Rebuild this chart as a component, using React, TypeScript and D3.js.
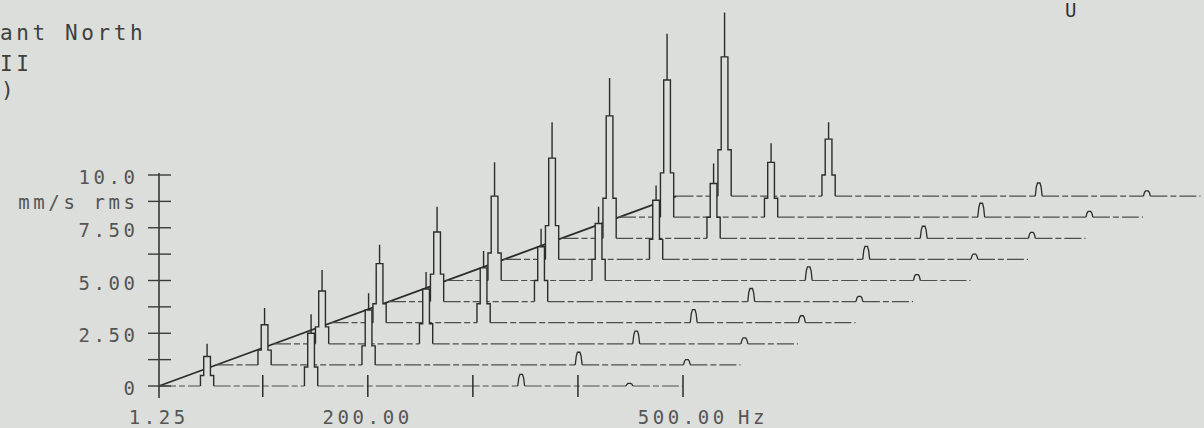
import React, { useEffect, useRef } from 'react';
import * as d3 from 'd3';

// waterfall traces, front (0) to back (9)
const traces = [0, 1, 2, 3, 4, 5, 6, 7, 8, 9];

// frequencies of the spectral lines, Hz
const lineFreqs = [47, 146, 346, 449];

// amplitudes per trace, mm/s rms
const line1Tip = [2.0, 2.7, 3.5, 3.7, 4.5, 5.6, 6.5, 7.6, 8.7, 8.7];
const line1Mid = [1.4, 1.9, 2.5, 2.8, 3.3, 4.0, 4.8, 5.8, 6.5, 6.6];
const line1Base = [0.5, 0.7, 0.8, 0.9, 1.3, 1.3, 1.6, 1.9, 2.1, 2.2];
const line2Tip = [3.4, 3.4, 3.4, 3.4, 3.45, 3.5, 3.5, 3.55, 3.5, 3.5];
const line2Mid = [2.5, 2.6, 2.6, 2.6, 2.6, 2.7, 2.8, 2.6, 2.6, 2.7];
const line2Base = [0.9, 0.9, 0.95, 0.9, 1.0, 1.0, 0.95, 1.0, 0.9, 1.0];
const line3Amp = [0.55, 0.6, 0.6, 0.62, 0.62, 0.65, 0.62, 0.57, 0.66, 0.62];
const line4Amp = [0.12, 0.25, 0.28, 0.33, 0.25, 0.28, 0.25, 0.28, 0.28, 0.25];

// axes
const yTicks = [0, 1.25, 2.5, 3.75, 5, 6.25, 7.5, 8.75, 10];
const yLabelValues = [10, 7.5, 5, 2.5, 0];
const yLabelText = ['10.0', '7.50', '5.00', '2.50', '0'];
const xTicks = [100, 200, 300, 400, 500];
const xLabelValues = [1.25, 200, 500];
const xLabelText = ['1.25', '200.00', '500.00'];
const fMin = 1.25;
const fMax = 500;

const BG = '#dcdedb';
const INK = '#2c2c2c';
const FONT = '"DejaVu Sans Mono", monospace';

const App = () => {
  const svgRef = useRef(null);

  useEffect(() => {
    const W = 1204;
    const H = 428;
    const svg = d3.select(svgRef.current).attr('width', W).attr('height', H);
    svg.selectAll('*').remove();
    svg.append('rect').attr('width', W).attr('height', H).attr('fill', BG);

    const x = d3.scaleLinear().domain([fMin, fMax]).range([159, 683]);
    const y = d3.scaleLinear().domain([0, 10]).range([386, 175]);

    // offset between successive traces
    const dx = 57.5;
    const dy = y(0) - y(1);

    const bigPeak = (f, tip, mid, ped) => [
      [f - 6.3, 0], [f - 6.3, ped], [f - 3.2, ped], [f - 3.2, mid], [f, mid], [f, tip],
      [f, mid], [f + 3.2, mid], [f + 3.2, ped], [f + 6.3, ped], [f + 6.3, 0],
    ];
    const smallPeak = (f, a) => [
      [f - 3.3, 0], [f - 2.3, a * 0.7], [f - 1.2, a], [f + 1.2, a], [f + 2.3, a * 0.7], [f + 3.3, 0],
    ];

    const line = d3.line().x(d => x(d[0])).y(d => y(d[1]));

    // diagonal through the trace origins
    svg.append('path')
      .attr('d', d3.line()([
        [x(fMin), y(0)],
        [x(fMin) + dx * (traces.length - 1), y(0) - dy * (traces.length - 1)],
      ]))
      .attr('stroke', INK)
      .attr('stroke-width', 1.8)
      .attr('fill', 'none');

    // back to front, each trace hides what lies behind it
    [...traces].reverse().forEach(k => {
      const g = svg.append('g').attr('transform', `translate(${dx * k},${-dy * k})`);
      const peaks = [
        bigPeak(lineFreqs[0], line1Tip[k], line1Mid[k], line1Base[k]),
        bigPeak(lineFreqs[1], line2Tip[k], line2Mid[k], line2Base[k]),
        smallPeak(lineFreqs[2], line3Amp[k]),
        smallPeak(lineFreqs[3], line4Amp[k]),
      ];
      const outline = [[fMin, 0], ...peaks.flat(), [fMax, 0]];
      g.append('path')
        .attr('d', line(outline) + 'Z')
        .attr('fill', BG)
        .attr('stroke', 'none');

      // broken plotter baseline between the peaks
      const edges = [fMin, ...peaks.flatMap(p => [p[0][0], p[p.length - 1][0]]), fMax];
      for (let i = 0; i < edges.length; i += 2) {
        g.append('path')
          .attr('d', line([[edges[i], 0], [edges[i + 1], 0]]))
          .attr('stroke', '#4e4e4e')
          .attr('stroke-width', 1.2)
          .attr('stroke-dasharray', '17 3 6 3')
          .attr('fill', 'none');
      }
      peaks.forEach((p, i) => {
        g.append('path')
          .attr('d', line(p))
          .attr('stroke', INK)
          .attr('stroke-width', i < 2 ? 1.4 : 1.3)
          .attr('fill', 'none');
      });
    });

    // y axis
    const ax = x(fMin);
    svg.append('line')
      .attr('x1', ax).attr('x2', ax)
      .attr('y1', y(10) - 2).attr('y2', y(0) + 12)
      .attr('stroke', INK).attr('stroke-width', 1.5);
    svg.selectAll('.ytick').data(yTicks).enter().append('line')
      .attr('x1', ax - 11).attr('x2', ax + 12)
      .attr('y1', d => y(d)).attr('y2', d => y(d))
      .attr('stroke', '#3a3a3a').attr('stroke-width', 1.4);

    const ls = 3.6;
    svg.selectAll('.ylab').data(yLabelValues).enter().append('text')
      .attr('x', 135 + ls)
      .attr('y', d => y(d) + 9)
      .attr('text-anchor', 'end')
      .text((d, i) => yLabelText[i]);
    svg.append('text')
      .attr('x', 135 + ls)
      .attr('y', y(8.75) + 8)
      .attr('text-anchor', 'end')
      .text('mm/s rms');

    // x ticks on the front trace
    svg.selectAll('.xtick').data(xTicks).enter().append('line')
      .attr('x1', d => x(d)).attr('x2', d => x(d))
      .attr('y1', y(0) - 11).attr('y2', y(0) + 11)
      .attr('stroke', INK).attr('stroke-width', 1.5);
    svg.selectAll('.xlab').data(xLabelValues).enter().append('text')
      .attr('x', d => x(d) - 2 + ls / 2)
      .attr('y', 424)
      .attr('text-anchor', 'middle')
      .text((d, i) => xLabelText[i]);
    svg.append('text')
      .attr('x', x(fMax) + 55)
      .attr('y', 424)
      .text('Hz');

    // header remnants visible at the page edge
    svg.append('text').attr('x', 0).attr('y', 40)
      .attr('font-size', 21).attr('fill', '#3e3e3e').text('ant North');
    svg.append('text').attr('x', 0).attr('y', 71)
      .attr('font-size', 21).attr('fill', '#3e3e3e').text('II');
    svg.append('text').attr('x', 1).attr('y', 97)
      .attr('font-size', 21).attr('fill', '#3e3e3e').text(')');
    svg.append('text').attr('x', 1065).attr('y', 17)
      .attr('font-size', 19).attr('fill', '#333').text('U');

    svg.selectAll('text')
      .attr('font-family', FONT)
      .attr('letter-spacing', ls)
      .filter(function () { return !d3.select(this).attr('font-size'); })
      .attr('font-size', 19)
      .attr('fill', '#555');
  }, []);

  return <svg ref={svgRef} style={{ position: 'absolute', left: 0, top: 0, display: 'block' }}></svg>;
};

export default App;
